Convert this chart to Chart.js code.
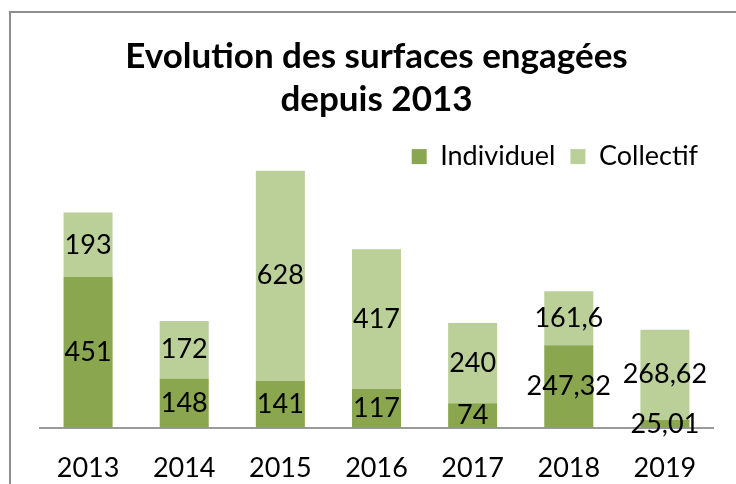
<!DOCTYPE html>
<html>
<head>
<meta charset="utf-8">
<script src="https://cdn.jsdelivr.net/npm/chart.js@4"></script>
<style>
  html, body { margin: 0; padding: 0; background: #fff; }
  #wrap { position: relative; width: 736px; height: 484px; overflow: hidden; }
  #frame { position: absolute; left: 9px; top: 11px; width: 800px; height: 600px;
           border-left: 2px solid #8e8e8e; border-top: 2px solid #8e8e8e; box-sizing: border-box; }
  canvas { position: absolute; left: 0; top: 0; }
</style>
</head>
<body>
<div id="wrap">
  <div id="frame"></div>
  <canvas id="c" width="736" height="484"></canvas>
</div>
<script>
const years = ['2013', '2014', '2015', '2016', '2017', '2018', '2019'];
const individuel = [451, 148, 141, 117, 74, 247.32, 25.01];
const collectif = [193, 172, 628, 417, 240, 161.6, 268.62];
const titleLines = ['Evolution des surfaces engagées', 'depuis 2013'];

const FONT = "Lato, 'Open Sans', 'Liberation Sans', sans-serif";

const labelPlugin = {
  id: 'segLabels',
  afterDatasetsDraw(chart) {
    const ctx = chart.ctx;
    ctx.save();
    ctx.font = "27px " + FONT;
    ctx.fillStyle = '#000';
    ctx.textAlign = 'center';
    ctx.textBaseline = 'middle';
    chart.data.datasets.forEach((ds, di) => {
      const meta = chart.getDatasetMeta(di);
      meta.data.forEach((el, i) => {
        const v = ds.data[i];
        const y = (el.y + el.base) / 2;
        ctx.fillText(String(v).replace('.', ','), el.x, y);
      });
    });
    ctx.restore();
  }
};

new Chart(document.getElementById('c'), {
  type: 'bar',
  data: {
    labels: years,
    datasets: [
      { label: 'Individuel', data: individuel, backgroundColor: '#8aa64f', borderWidth: 0, clip: false },
      { label: 'Collectif', data: collectif, backgroundColor: '#bbcf98', borderWidth: 0, clip: false }
    ]
  },
  options: {
    responsive: false,
    animation: false,
    devicePixelRatio: 1,
    layout: { padding: { left: 40, right: 23, top: 0, bottom: 0 } },
    datasets: { bar: { categoryPercentage: 1.0, barPercentage: 0.51 } },
    scales: {
      x: {
        stacked: true,
        grid: { display: false, drawTicks: false },
        border: { display: true, color: '#9a9a9a', width: 2 },
        ticks: { color: '#000', font: { family: FONT, size: 27 }, padding: 24 },
        afterFit(scale) { scale.height = 56; }
      },
      y: {
        stacked: true,
        display: false,
        min: 0,
        max: 741
      }
    },
    plugins: {
      tooltip: { enabled: false },
      title: {
        display: true,
        text: titleLines,
        color: '#000',
        font: { family: FONT, size: 35, weight: 'bold', lineHeight: 1.23 },
        padding: { top: 35, bottom: 7 }
      },
      legend: {
        display: true,
        position: 'top',
        align: 'end',
        labels: {
          color: '#000',
          font: { family: FONT, size: 27 },
          boxWidth: 15,
          boxHeight: 15,
          padding: 15
        }
      }
    }
  },
  plugins: [labelPlugin]
});
</script>
</body>
</html>
